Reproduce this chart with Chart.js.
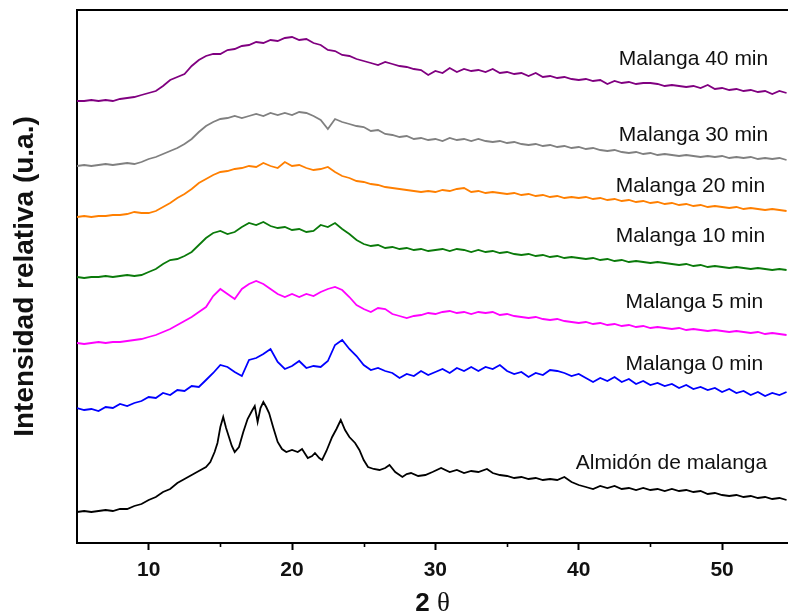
<!DOCTYPE html>
<html>
<head>
<meta charset="utf-8">
<script src="https://cdn.jsdelivr.net/npm/chart.js@4.4.1/dist/chart.umd.min.js"></script>
<style>
html,body{margin:0;padding:0;background:#fff;overflow:hidden}
#wrap{width:788px;height:613px;position:relative}
</style>
</head>
<body>
<div id="wrap"><canvas id="c"></canvas></div>
<script>
// 2θ positions (degrees) shared by the six treated samples
const twoTheta = [
  5,5.5,6,6.5,7,7.5,8,8.5,9,9.5,
  10,10.5,11,11.5,12,12.5,13,13.5,14,14.5,
  15,15.5,16,16.5,17,17.5,18,18.5,19,19.5,
  20,20.5,21,21.5,22,22.5,23,23.5,24,24.5,
  25,25.5,26,26.5,27,27.5,28,28.5,29,29.5,
  30,30.5,31,31.5,32,32.5,33,33.5,34,34.5,
  35,35.5,36,36.5,37,37.5,38,38.5,39,39.5,
  40,40.5,41,41.5,42,42.5,43,43.5,44,44.5,
  45,45.5,46,46.5,47,47.5,48,48.5,49,49.5,
  50,50.5,51,51.5,52,52.5,53,53.5,54,54.5
];

// stacked intensities (u.a.), each pattern with its vertical offset
const malanga40 = [
  442,442,443,442,443,442,444,445,446,448,
  450,452,457,463,466,469,477,483,487,489,
  489,493,494,497,498,501,500,503,502,505,
  506,503,504,500,498,493,492,488,487,484,
  482,480,478,481,479,477,476,474,473,468,
  472,470,475,471,474,472,473,471,474,470,
  471,469,470,467,470,466,467,465,466,464,
  463,464,462,463,459,462,460,461,459,460,
  460,459,457,458,457,456,457,455,458,454,
  455,453,454,452,453,451,452,449,452,450
];
const malanga30 = [
  377,378,377,378,379,378,379,380,379,381,
  384,386,389,392,395,399,404,411,417,421,
  424,425,427,425,427,429,427,430,428,430,
  428,431,430,427,423,414,424,421,419,417,
  416,412,413,409,408,406,407,404,405,403,
  404,402,405,403,404,402,404,402,401,402,
  400,401,399,398,399,397,398,396,397,395,
  396,394,395,393,392,393,391,390,391,389,
  390,388,389,388,387,388,387,386,387,386,
  387,385,386,385,386,384,385,384,385,383
];
const malanga20 = [
  326,327,326,327,327,328,328,329,331,330,
  330,332,336,340,345,349,354,360,364,368,
  371,372,374,375,377,376,380,377,375,381,
  377,378,375,373,374,376,371,367,365,362,
  361,359,358,356,355,354,353,352,351,352,
  351,353,352,354,355,351,352,350,351,350,
  349,350,348,349,347,348,346,347,345,346,
  345,346,344,345,343,344,342,343,341,342,
  340,341,339,340,338,339,337,338,336,337,
  336,335,336,334,335,334,333,334,333,332
];
const malanga10 = [
  266,265,266,266,267,266,267,268,267,268,
  271,274,279,283,284,287,291,298,305,310,
  312,309,311,316,320,318,321,317,315,316,
  313,314,311,312,318,316,320,314,309,303,
  299,297,298,295,296,294,295,293,294,292,
  293,294,292,294,293,291,293,291,292,290,
  291,289,288,289,287,288,286,287,285,286,
  285,284,285,283,284,282,283,281,282,281,
  280,281,280,279,278,279,277,278,276,277,
  276,275,276,275,274,275,274,273,274,273
];
const malanga5 = [
  200,199,200,201,200,201,201,202,203,204,
  206,208,211,214,218,222,226,231,236,247,
  254,249,244,254,259,262,259,254,249,246,
  249,246,249,247,251,254,256,253,246,238,
  234,231,235,234,229,227,225,227,228,230,
  229,231,232,230,231,229,231,230,231,228,
  229,227,226,225,226,224,223,224,222,221,
  220,221,219,220,218,219,217,218,216,217,
  215,216,215,214,215,213,214,213,212,213,
  212,211,212,211,210,211,209,210,209,208
];
const malanga0 = [
  135,133,134,132,136,135,139,137,140,142,
  146,145,150,148,153,152,157,156,163,170,
  178,176,171,167,183,185,189,194,181,174,
  177,182,175,177,176,182,198,203,194,187,
  178,173,175,172,170,165,169,167,172,168,
  171,174,170,175,172,176,172,176,174,178,
  172,169,171,166,170,168,173,172,170,167,
  169,165,161,165,162,166,161,164,159,162,
  158,160,157,159,155,158,154,156,153,155,
  151,154,150,152,148,151,147,150,148,151
];

// native starch pattern, read at its own 2θ positions (denser around the peaks)
const twoThetaStarch = [
  5,5.5,6,6.5,7,7.5,8,8.5,9,9.5,
  10,10.5,11,11.5,12,12.5,13,13.5,14,14.3,
  14.6,14.8,15.0,15.2,15.4,15.6,15.8,16.0,16.3,16.6,
  16.9,17.2,17.4,17.6,17.8,18.0,18.2,18.4,18.7,19.0,
  19.3,19.6,20.0,20.4,20.7,21.1,21.4,21.6,21.9,22.1,
  22.4,22.8,23.1,23.4,23.7,24.0,24.4,24.7,25.0,25.3,
  25.7,26.1,26.5,26.8,27.2,27.7,28.0,28.3,28.8,29.3,
  29.8,30.4,31,31.5,32,32.5,33,33.6,34,34.5,
  35,35.5,36,36.5,37,37.5,38,38.5,39,39.5,
  40,40.5,41,41.5,42,42.5,43,43.5,44,44.5,
  45,45.5,46,46.5,47,47.5,48,48.5,49,49.5,
  50,50.5,51,51.5,52,52.5,53,53.5,54,54.5
];
const almidon = [
  31,32,31,32,33,32,34,34,37,39,
  43,46,51,54,60,64,68,72,76,81,
  91,100,116,126,115,106,97,91,96,111,
  124,132,137,121,135,141,136,130,115,101,
  94,91,93,91,94,85,87,90,85,83,
  92,106,114,123,113,106,100,93,83,76,
  74,73,75,78,71,66,69,70,67,68,
  71,75,71,73,70,72,71,74,70,68,
  67,65,66,64,65,63,64,63,66,61,
  58,56,54,57,55,57,54,55,53,55,
  53,54,52,54,52,53,51,52,49,50,
  48,47,48,46,47,45,46,44,45,43
];

const seriesNames = ['Malanga 40 min','Malanga 30 min','Malanga 20 min','Malanga 10 min','Malanga 5 min','Malanga 0 min','Almidón de malanga'];
const xTickLabels = ['10','20','30','40','50'];

const seriesColors = ['#800080','#808080','#ff7f00','#0a7a0a','#ff00ff','#0000ff','#000000'];
const seriesValues = [malanga40, malanga30, malanga20, malanga10, malanga5, malanga0, almidon];
const seriesX = [twoTheta, twoTheta, twoTheta, twoTheta, twoTheta, twoTheta, twoThetaStarch];

// text label anchors (right end, vertical middle) in data units
const labelAnchors = [
  {x:53.22, y:484}, {x:53.22, y:408}, {x:53.0, y:357}, {x:53.0, y:307},
  {x:52.87, y:241}, {x:52.87, y:179}, {x:53.15, y:80}
];

const FONT = '"Liberation Sans", Arial, Helvetica, sans-serif';
const SERIF = '"Liberation Serif", "Times New Roman", serif';
Chart.defaults.font.family = FONT;

const datasets = seriesNames.map((name, i) => ({
  label: name,
  data: seriesX[i].map((x, j) => ({x: x, y: seriesValues[i][j]})),
  borderColor: seriesColors[i],
  borderWidth: 1.8,
  pointRadius: 0,
  tension: 0,
  fill: false
}));

const decor = {
  id: 'decor',
  afterDraw(chart) {
    const {ctx, chartArea: a, scales: {x, y}} = chart;
    ctx.save();
    ctx.strokeStyle = '#000';
    ctx.lineWidth = 2;
    ctx.beginPath();
    ctx.moveTo(a.left - 1, a.top);
    ctx.lineTo(a.right, a.top);
    ctx.stroke();
    ctx.lineWidth = 1.6;
    x.ticks.forEach(t => {
      if (t.value % 10 === 5 && t.value > x.min) {
        const px = Math.round(x.getPixelForValue(t.value)) + 0.5;
        ctx.beginPath();
        ctx.moveTo(px, a.bottom);
        ctx.lineTo(px, a.bottom + 4);
        ctx.stroke();
      }
    });
    // series labels
    ctx.font = '21px ' + FONT;
    ctx.fillStyle = '#111';
    ctx.textAlign = 'right';
    ctx.textBaseline = 'middle';
    seriesNames.forEach((name, i) => {
      ctx.fillText(name, x.getPixelForValue(labelAnchors[i].x), y.getPixelForValue(labelAnchors[i].y));
    });
    // x axis title "2 θ": bold sans digit, serif theta
    const part1 = '2 ', part2 = 'θ';
    const f1 = 'bold 26px ' + FONT, f2 = '27px ' + SERIF;
    ctx.font = f1; const w1 = ctx.measureText(part1).width;
    ctx.font = f2; const w2 = ctx.measureText(part2).width;
    const cx = (a.left + a.right) / 2;
    const startX = cx - (w1 + w2) / 2;
    const baseY = chart.height - 2;
    ctx.textAlign = 'left';
    ctx.textBaseline = 'alphabetic';
    ctx.font = f1; ctx.fillText(part1, startX, baseY);
    ctx.font = f2; ctx.fillText(part2, startX + w1, baseY);
    ctx.restore();
  }
};

new Chart(document.getElementById('c'), {
  type: 'line',
  data: {datasets: datasets},
  options: {
    responsive: true,
    maintainAspectRatio: false,
    animation: false,
    layout: {padding: {top: 10, left: 0, right: 0, bottom: 0}},
    plugins: {legend: {display: false}, tooltip: {enabled: false}},
    scales: {
      x: {
        type: 'linear',
        min: 5,
        max: 54.6,
        ticks: {
          stepSize: 5,
          includeBounds: false,
          autoSkip: false,
          maxRotation: 0,
          color: '#111',
          padding: 8,
          font: {size: 21, weight: 'bold'},
          callback: v => (v % 10 === 0 ? xTickLabels[v / 10 - 1] : '')
        },
        grid: {
          drawOnChartArea: false,
          drawTicks: true,
          tickLength: 7,
          tickWidth: 2,
          tickColor: c => (c.tick && c.tick.value % 10 === 0) ? '#000' : 'rgba(0,0,0,0)'
        },
        border: {display: true, color: '#000', width: 2},
        title: {display: false},
        afterFit: s => { s.height = 70; }
      },
      y: {
        min: 0,
        max: 533,
        ticks: {display: false},
        grid: {display: false, drawTicks: false},
        border: {display: true, color: '#000', width: 2},
        title: {
          display: true,
          text: 'Intensidad relativa (u.a.)',
          color: '#111',
          font: {size: 28, weight: 'bold'},
          padding: {top: 8, bottom: 0}
        },
        afterFit: s => { s.width = 77; }
      }
    }
  },
  plugins: [decor]
});
</script>
</body>
</html>
